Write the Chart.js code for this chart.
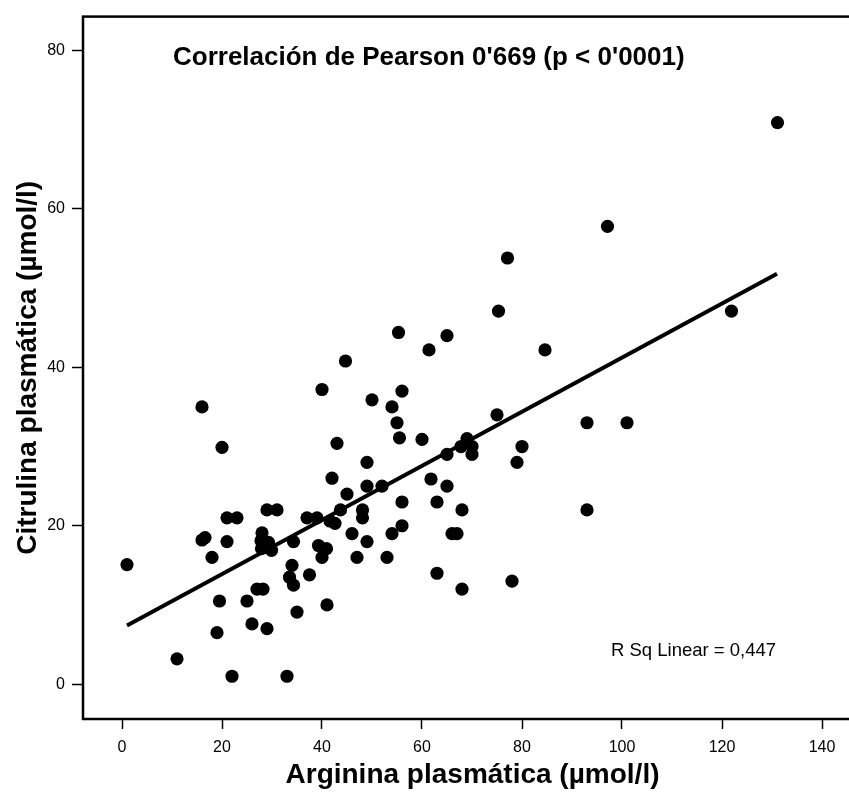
<!DOCTYPE html>
<html>
<head>
<meta charset="utf-8">
<script src="https://cdn.jsdelivr.net/npm/chart.js@4.4.1/dist/chart.umd.min.js"></script>
<style>
    html, body { margin: 0; padding: 0; background: #fff; overflow: hidden; }
    #wrap { position: absolute; left: 0; top: 0; width: 870px; height: 792px; }
</style>
</head>
<body>
<div id="wrap"><canvas id="scatterChart"></canvas></div>
<script>
// Arginina (x) / Citrulina (y) values
const arginina = [
    1, 11, 16, 20, 16, 16.6, 18, 19, 19.5, 21,
    23, 21, 22, 25, 26, 27, 28.2, 28, 27.8, 29.3,
    27.9, 29.9, 29, 31, 29, 33, 33.5, 34.3, 34, 34.3,
    35, 37.5, 37, 39, 39.3, 40.9, 40, 41, 40, 41.6,
    42.6, 42, 43, 43.7, 44.7, 45, 46, 47, 48.1, 48.1,
    49, 49, 49, 50, 52, 53, 54, 54, 55, 55.5,
    55.3, 56, 56, 56, 60, 61.4, 61.8, 63, 63, 65,
    65, 65, 66, 67, 68, 68, 67.8, 69, 70, 70,
    75, 75.3, 77.1, 78, 79, 80, 84.6, 93, 93, 97.1,
    101, 121.9, 131.1
];
const citrulina = [
    15.1, 3.2, 35, 29.9, 18.2, 18.5, 16, 6.5, 10.5, 21,
    21, 18, 1, 10.5, 7.6, 12, 12, 19.1, 18.1, 17.9,
    17.1, 16.9, 22, 22, 7, 1, 13.5, 12.5, 15, 18,
    9.1, 13.8, 21, 21, 17.5, 17.1, 16, 10, 37.2, 20.6,
    20.3, 26, 30.4, 22, 40.8, 24, 19, 16, 22, 21,
    18, 25, 28, 35.9, 25, 16, 19, 35, 33, 31.1,
    44.4, 37, 23, 20, 30.9, 42.2, 25.9, 23, 14, 44,
    29, 25, 19, 19, 22, 12, 30, 31, 30, 29,
    34, 47.1, 53.8, 13, 28, 30, 42.2, 33, 22, 57.8,
    33, 47.1, 70.9
];

// fitted line end points as drawn
const fitX = [1, 131];
const fitY = [7.4, 51.8];

const xTicks = [0, 20, 40, 60, 80, 100, 120, 140];
const yTicks = [0, 20, 40, 60, 80];

const pearsonText = "Correlación de Pearson 0'669 (p < 0'0001)";
const rsqText = "R Sq Linear = 0,447";

const frameAndNotes = {
    id: 'frameAndNotes',
    afterDraw(chart) {
        const ctx = chart.ctx;
        const a = chart.chartArea;
        ctx.save();
        ctx.strokeStyle = '#000';
        ctx.lineWidth = 2.5;
        ctx.strokeRect(a.left, a.top, a.right - a.left + 20, a.bottom - a.top);
        ctx.fillStyle = '#000';
        ctx.textBaseline = 'alphabetic';
        ctx.font = 'bold 26px "Liberation Sans", Arial, sans-serif';
        ctx.fillText(pearsonText, 173, 65);
        ctx.font = '18.5px "Liberation Sans", Arial, sans-serif';
        ctx.fillText(rsqText, 611, 656);
        ctx.restore();
    }
};

const pts = arginina.map((v, i) => ({ x: v, y: citrulina[i] }));
const fitPts = fitX.map((v, i) => ({ x: v, y: fitY[i] }));

new Chart(document.getElementById('scatterChart'), {
    type: 'scatter',
    data: {
        datasets: [{
            data: pts,
            pointStyle: 'circle',
            pointRadius: 6.6,
            pointHoverRadius: 6.6,
            borderWidth: 0,
            backgroundColor: '#000',
            borderColor: '#000'
        }, {
            type: 'line',
            data: fitPts,
            borderColor: '#000',
            borderWidth: 4,
            pointRadius: 0,
            fill: false
        }]
    },
    options: {
        responsive: true,
        maintainAspectRatio: false,
        animation: false,
        layout: { padding: { left: 0, top: 14, right: 8, bottom: 0 } },
        plugins: {
            legend: { display: false },
            tooltip: { enabled: false }
        },
        scales: {
            x: {
                type: 'linear',
                min: -7.8,
                max: 148,
                afterBuildTicks: s => { s.ticks = xTicks.map(v => ({ value: v })); },
                afterFit: s => { s.height = 73; },
                grid: { drawOnChartArea: false, tickLength: 10, tickWidth: 1.5, tickColor: '#000' },
                border: { display: false },
                ticks: {
                    color: '#000',
                    padding: 9,
                    font: { family: '"Liberation Sans", Arial, sans-serif', size: 16 }
                },
                title: {
                    display: true,
                    text: 'Arginina plasmática (µmol/l)',
                    color: '#000',
                    padding: { top: 0, bottom: 0 },
                    font: { family: '"Liberation Sans", Arial, sans-serif', size: 28, weight: 'bold', lineHeight: 1.2 }
                }
            },
            y: {
                type: 'linear',
                min: -4.4,
                max: 84.28,
                afterBuildTicks: s => { s.ticks = yTicks.map(v => ({ value: v })); },
                afterFit: s => { s.width = 83; },
                grid: { drawOnChartArea: false, tickLength: 11, tickWidth: 1.5, tickColor: '#000' },
                border: { display: false },
                ticks: {
                    color: '#000',
                    padding: 7,
                    font: { family: '"Liberation Sans", Arial, sans-serif', size: 16 }
                },
                title: {
                    display: true,
                    text: 'Citrulina plasmática (µmol/l)',
                    color: '#000',
                    padding: { top: 11, bottom: 0 },
                    font: { family: '"Liberation Sans", Arial, sans-serif', size: 28, weight: 'bold', lineHeight: 1.2 }
                }
            }
        }
    },
    plugins: [frameAndNotes]
});
</script>
</body>
</html>
